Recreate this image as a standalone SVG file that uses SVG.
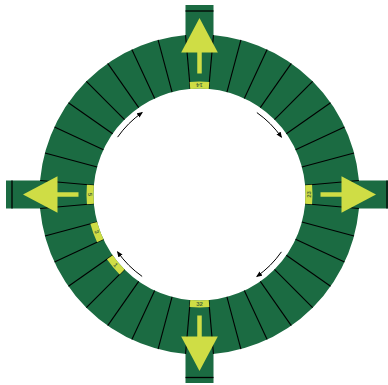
<svg xmlns="http://www.w3.org/2000/svg" xmlns:xlink="http://www.w3.org/1999/xlink" width="388" height="385" viewBox="0 0 388 385">
<style>
.g{fill:#1b6b42}
.bk{stroke:#000;stroke-width:1.3}
.seg{stroke:#000;stroke-width:1.1}
.yl{fill:#cfdd45}
.lbl{font-family:"Liberation Sans",Arial,sans-serif;font-size:6px;font-weight:bold;fill:#4d6b3a;text-anchor:middle;dominant-baseline:central}
.arc{fill:none;stroke:#000;stroke-width:1}
</style>
<defs>
<marker id="ah" markerWidth="6" markerHeight="6" refX="5" refY="3" orient="auto" markerUnits="userSpaceOnUse">
<path d="M0,0.5 L6,3 L0,5.5 Z" fill="#000"/>
</marker>
<line id="sl" class="seg" x1="305.5" y1="194.5" x2="359.5" y2="194.5"/>
<path id="band" class="yl" d="M305.1,185.26 L312.07,184.65 A113,113 0 0 1 312.07,204.35 L305.1,203.74 A106,106 0 0 0 305.1,185.26 Z"/>
<g id="arrow" class="yl">
<rect x="320.5" y="192.25" width="21.5" height="4.5"/>
<path d="M341.5,176.2 L376,194.5 L341.5,212.8 Z"/>
</g>
</defs>
<g id="gates">
<rect class="g" x="185.5" y="5" width="28" height="42"/>
<line class="bk" x1="185.5" y1="11" x2="213.5" y2="11"/>
<rect class="g" x="185.5" y="342" width="28" height="41"/>
<line class="bk" x1="185.5" y1="377.5" x2="213.5" y2="377.5"/>
<rect class="g" x="6" y="180.5" width="44" height="28"/>
<line class="bk" x1="12" y1="180.5" x2="12" y2="208.5"/>
<rect class="g" x="349" y="180.5" width="40" height="28"/>
<line class="bk" x1="387" y1="180.5" x2="387" y2="208.5"/>
</g>
<g id="ring">
<circle cx="199.5" cy="194.5" r="133" fill="none" stroke="#1b6b42" stroke-width="54"/>
</g>
<g id="segments">
<use xlink:href="#sl" transform="rotate(5 199.5 194.5)"/>
<use xlink:href="#sl" transform="rotate(15 199.5 194.5)"/>
<use xlink:href="#sl" transform="rotate(25 199.5 194.5)"/>
<use xlink:href="#sl" transform="rotate(35 199.5 194.5)"/>
<use xlink:href="#sl" transform="rotate(45 199.5 194.5)"/>
<use xlink:href="#sl" transform="rotate(55 199.5 194.5)"/>
<use xlink:href="#sl" transform="rotate(65 199.5 194.5)"/>
<use xlink:href="#sl" transform="rotate(75 199.5 194.5)"/>
<use xlink:href="#sl" transform="rotate(85 199.5 194.5)"/>
<use xlink:href="#sl" transform="rotate(95 199.5 194.5)"/>
<use xlink:href="#sl" transform="rotate(105 199.5 194.5)"/>
<use xlink:href="#sl" transform="rotate(115 199.5 194.5)"/>
<use xlink:href="#sl" transform="rotate(125 199.5 194.5)"/>
<use xlink:href="#sl" transform="rotate(135 199.5 194.5)"/>
<use xlink:href="#sl" transform="rotate(145 199.5 194.5)"/>
<use xlink:href="#sl" transform="rotate(155 199.5 194.5)"/>
<use xlink:href="#sl" transform="rotate(165 199.5 194.5)"/>
<use xlink:href="#sl" transform="rotate(175 199.5 194.5)"/>
<use xlink:href="#sl" transform="rotate(185 199.5 194.5)"/>
<use xlink:href="#sl" transform="rotate(195 199.5 194.5)"/>
<use xlink:href="#sl" transform="rotate(205 199.5 194.5)"/>
<use xlink:href="#sl" transform="rotate(215 199.5 194.5)"/>
<use xlink:href="#sl" transform="rotate(225 199.5 194.5)"/>
<use xlink:href="#sl" transform="rotate(235 199.5 194.5)"/>
<use xlink:href="#sl" transform="rotate(245 199.5 194.5)"/>
<use xlink:href="#sl" transform="rotate(255 199.5 194.5)"/>
<use xlink:href="#sl" transform="rotate(265 199.5 194.5)"/>
<use xlink:href="#sl" transform="rotate(275 199.5 194.5)"/>
<use xlink:href="#sl" transform="rotate(285 199.5 194.5)"/>
<use xlink:href="#sl" transform="rotate(295 199.5 194.5)"/>
<use xlink:href="#sl" transform="rotate(305 199.5 194.5)"/>
<use xlink:href="#sl" transform="rotate(315 199.5 194.5)"/>
<use xlink:href="#sl" transform="rotate(325 199.5 194.5)"/>
<use xlink:href="#sl" transform="rotate(335 199.5 194.5)"/>
<use xlink:href="#sl" transform="rotate(345 199.5 194.5)"/>
<use xlink:href="#sl" transform="rotate(355 199.5 194.5)"/>
</g>
<g id="label-14" transform="rotate(270 199.5 194.5)">
<use xlink:href="#band"/>
<text class="lbl" x="309" y="194.5" transform="rotate(-90 309 194.5)">14</text>
</g>
<g id="label-23">
<use xlink:href="#band"/>
<text class="lbl" x="309" y="194.5" transform="rotate(-90 309 194.5)">23</text>
</g>
<g id="label-32" transform="rotate(90 199.5 194.5)">
<use xlink:href="#band"/>
<text class="lbl" x="309" y="194.5" transform="rotate(-90 309 194.5)">32</text>
</g>
<g id="label-5" transform="rotate(180 199.5 194.5)">
<use xlink:href="#band"/>
<text class="lbl" x="309" y="194.5" transform="rotate(-90 309 194.5)">5</text>
</g>
<g id="label-3" transform="rotate(160 199.5 194.5)">
<use xlink:href="#band"/>
<text class="lbl" x="309" y="194.5" transform="rotate(-90 309 194.5)">3</text>
</g>
<g id="label-1" transform="rotate(140 199.5 194.5)">
<use xlink:href="#band"/>
<text class="lbl" x="309" y="194.5" transform="rotate(-90 309 194.5)">1</text>
</g>
<g id="arrow-right"><use xlink:href="#arrow"/></g>
<g id="arrow-bottom"><use xlink:href="#arrow" transform="rotate(90 199.5 194.5)"/></g>
<g id="arrow-left"><use xlink:href="#arrow" transform="rotate(180 199.5 194.5)"/></g>
<g id="arrow-top"><use xlink:href="#arrow" transform="rotate(270 199.5 194.5)"/></g>
<g id="connectors">
<path class="arc" marker-end="url(#ah)" d="M117.58,137.14 A100,100 0 0 1 142.14,112.58"/>
<path class="arc" marker-end="url(#ah)" d="M256.86,112.58 A100,100 0 0 1 281.42,137.14"/>
<path class="arc" marker-end="url(#ah)" d="M281.42,251.86 A100,100 0 0 1 256.86,276.42"/>
<path class="arc" marker-end="url(#ah)" d="M142.14,276.42 A100,100 0 0 1 117.58,251.86"/>
</g>
</svg>
